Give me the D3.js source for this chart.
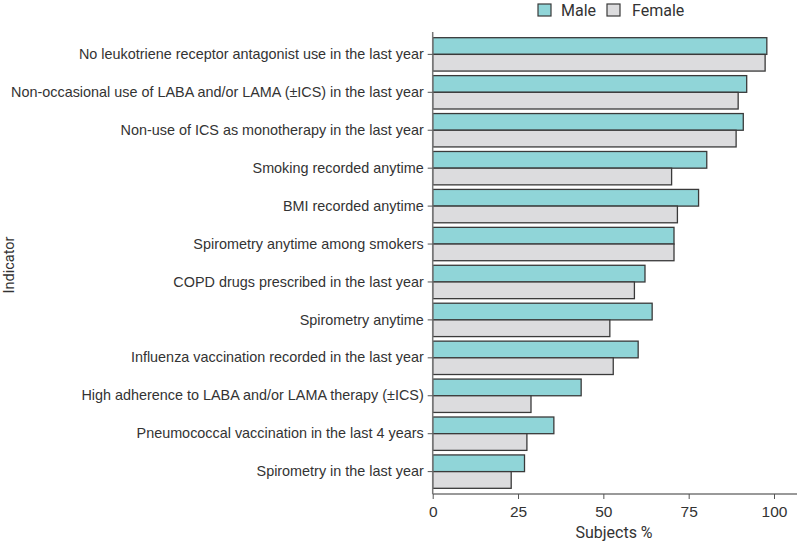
<!DOCTYPE html>
<html>
<head>
<meta charset="utf-8">
<script src="https://cdn.jsdelivr.net/npm/d3@7"></script>
<style>
  body { margin: 0; background: #fff; }
  svg { font-family: "Roboto", sans-serif; }
</style>
</head>
<body>
<div id="chart"></div>
<script>
var indicators = [
  "No leukotriene receptor antagonist use in the last year",
  "Non-occasional use of LABA and/or LAMA (\u00b1ICS) in the last year",
  "Non-use of ICS as monotherapy in the last year",
  "Smoking recorded anytime",
  "BMI recorded anytime",
  "Spirometry anytime among smokers",
  "COPD drugs prescribed in the last year",
  "Spirometry anytime",
  "Influenza vaccination recorded in the last year",
  "High adherence to LABA and/or LAMA therapy (\u00b1ICS)",
  "Pneumococcal vaccination in the last 4 years",
  "Spirometry in the last year"
];
var male   = [97.9, 92.0, 91.0, 80.3, 77.9, 70.7, 62.2, 64.3, 60.2, 43.5, 35.5, 26.9];
var female = [97.4, 89.5, 88.9, 70.0, 71.7, 70.7, 59.1, 51.9, 52.9, 28.8, 27.6, 23.0];
var series = ["Male", "Female"];
var xTicks = [0, 25, 50, 75, 100];

var W = 798, H = 542;
var colors = { Male: "#90d5d8", Female: "#dcdcde" };

var svg = d3.select("#chart").append("svg")
    .attr("width", W).attr("height", H);

var x = d3.scaleLinear().domain([0, 100]).range([432.7, 774]);
var y = d3.scaleBand().domain(indicators).range([32, 494])
    .paddingInner(0.12).paddingOuter(0.15);
var sub = d3.scaleBand().domain(series).range([0, y.bandwidth()]);

// bars
var rows = indicators.map(function(d, i) {
  return { name: d, vals: [{ k: "Male", v: male[i] }, { k: "Female", v: female[i] }] };
});

var g = svg.selectAll("g.row").data(rows).enter().append("g")
    .attr("class", "row")
    .attr("transform", function(d) { return "translate(0," + y(d.name) + ")"; });

g.selectAll("rect").data(function(d) { return d.vals; }).enter().append("rect")
    .attr("x", x(0))
    .attr("y", function(d) { return sub(d.k); })
    .attr("width", function(d) { return x(d.v) - x(0); })
    .attr("height", sub.bandwidth())
    .attr("fill", function(d) { return colors[d.k]; })
    .attr("stroke", "#3a3a3a")
    .attr("stroke-width", 1.3);

// x axis
var xAxis = svg.append("g")
    .attr("transform", "translate(0,494)")
    .call(d3.axisBottom(x).tickValues(xTicks).tickSize(5).tickSizeOuter(0));
xAxis.select(".domain").attr("d", "M" + x(0) + ",0H797");

// y axis
var yAxis = svg.append("g")
    .attr("transform", "translate(" + x(0) + ",0)")
    .call(d3.axisLeft(y).tickSize(5).tickSizeOuter(0));
yAxis.select(".domain").attr("d", "M0,32V494");

[xAxis, yAxis].forEach(function(a) {
  a.select(".domain").attr("stroke", "#777").attr("stroke-width", 1.5);
  a.selectAll(".tick line").attr("stroke", "#555");
  a.selectAll("text").attr("fill", "#333");
});
xAxis.selectAll("text").attr("font-size", 15.5).attr("dy", "0.95em");
yAxis.selectAll("text").attr("font-size", 14.4).attr("dx", "-1px");

// axis titles
svg.append("text")
    .attr("x", 614).attr("y", 538)
    .attr("text-anchor", "middle")
    .attr("font-size", 16).attr("fill", "#333")
    .text("Subjects %");
svg.append("text")
    .attr("transform", "translate(14,265) rotate(-90)")
    .attr("text-anchor", "middle")
    .attr("font-size", 14.5).attr("fill", "#333")
    .text("Indicator");

// legend
var leg = svg.append("g").attr("transform", "translate(538,3)");
var lx = [0, 69];
series.forEach(function(s, i) {
  leg.append("rect")
      .attr("x", lx[i]).attr("y", 1)
      .attr("width", 13).attr("height", 12)
      .attr("fill", colors[s]).attr("stroke", "#3a3a3a").attr("stroke-width", 1.2);
  leg.append("text")
      .attr("x", lx[i] + 23 + (i ? 2 : 0)).attr("y", 12.5)
      .attr("font-size", 16).attr("fill", "#333")
      .text(s);
});
</script>
</body>
</html>
